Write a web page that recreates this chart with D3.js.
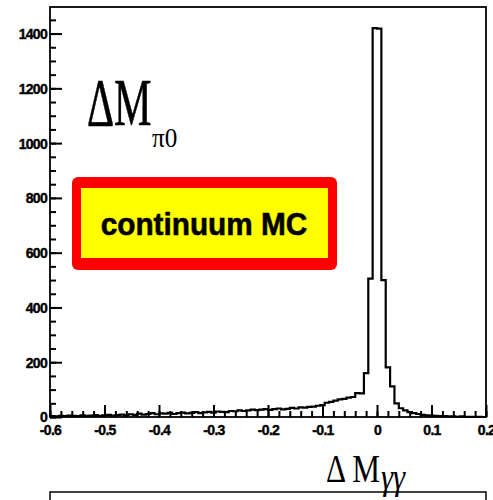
<!DOCTYPE html>
<html>
<head>
<meta charset="utf-8">
<script src="https://cdn.jsdelivr.net/npm/d3@7"></script>
<style>
  body { margin: 0; background: #fff; }
  svg { display: block; }
</style>
</head>
<body>
<svg width="493" height="500"></svg>
<script>
// histogram: 100 bins of 0.008 from -0.6 to 0.2
var xMin = -0.6, xMax = 0.2, binWidth = 0.008;
var counts = [
   3,  2,  4,  3,  5,  4,  3,  6,  4,  5,
   7,  4,  6,  8,  5,  7,  9,  6, 10,  8,
  12,  9, 11, 14, 10, 13, 12, 15, 11, 14,
  16, 13, 15, 18, 14, 17, 19, 16, 20, 19,
  18, 22, 21, 24, 22, 24, 27, 25, 27, 29,
  26, 29, 31, 28, 30, 33, 31, 35, 34, 37,
  38, 41, 43, 52, 55, 60, 64, 66, 71, 73,
  87, 86,160,505,1420,1418,500,181,112, 50,
  32, 24, 18, 14, 11,  8,  6,  5,  4,  3,
   3,  2,  2,  1,  2,  1,  1,  0,  1,  0
];
var xTicks = [-0.6, -0.5, -0.4, -0.3, -0.2, -0.1, 0, 0.1, 0.2];
var yTicks = [0, 200, 400, 600, 800, 1000, 1200, 1400];
var yMax = 1497;

var svg = d3.select("svg"),
    width = +svg.attr("width"),
    height = +svg.attr("height");

var pLeft = 50, pRight = 486, pTop = 7, pBottom = 417;

var x = d3.scaleLinear().domain([xMin, xMax]).range([pLeft, pRight]);
var y = d3.scaleLinear().domain([0, yMax]).range([pBottom, pTop]);

var fmt = function(d){ return String(+d.toFixed(1)); };

// ticks drawn inside the frame, ROOT style
var xAxis = d3.axisTop(x).tickValues(xTicks).tickSize(12).tickFormat(fmt);
var xMinor = d3.axisTop(x).tickValues(d3.range(0, 41).map(function(i){ return xMin + i * 0.02; })).tickSize(6).tickFormat("");
var yAxis = d3.axisRight(y).tickValues(yTicks).tickSize(12).tickFormat(fmt);
var yMinor = d3.axisRight(y).tickValues(d3.range(0, 1451, 50)).tickSize(6).tickFormat("");

svg.append("g").attr("transform", "translate(0," + pBottom + ")").call(xMinor);
var gx = svg.append("g").attr("transform", "translate(0," + pBottom + ")").call(xAxis);
gx.selectAll("text").attr("y", 18).attr("dy", 0);
svg.append("g").attr("transform", "translate(" + pLeft + ",0)").call(yMinor);
var gy = svg.append("g").attr("transform", "translate(" + pLeft + ",0)").call(yAxis);
gy.selectAll("text").attr("x", -3).attr("dy", "0.35em").attr("text-anchor", "end");

svg.selectAll(".domain").remove();
svg.selectAll(".tick line").attr("stroke", "#000").attr("stroke-width", 2);
svg.selectAll(".tick text")
  .attr("fill", "#000")
  .attr("stroke", "#000")
  .attr("stroke-width", 0.4)
  .attr("font-family", "'Liberation Sans', Arial, sans-serif")
  .attr("font-weight", "bold")
  .attr("font-size", 14)
  .attr("letter-spacing", "-0.7");

// histogram outline
var pts = [[xMin, 0]];
counts.forEach(function(c, i) {
  pts.push([xMin + i * binWidth, c]);
  pts.push([xMin + (i + 1) * binWidth, c]);
});
pts.push([xMax, 0]);
var line = d3.line().x(function(d){ return x(d[0]); }).y(function(d){ return y(d[1]); });
svg.append("path").datum(pts)
  .attr("d", line)
  .attr("fill", "none")
  .attr("stroke", "#000")
  .attr("stroke-width", 2.2);

// frame
svg.append("rect")
  .attr("x", pLeft).attr("y", pTop)
  .attr("width", pRight - pLeft).attr("height", pBottom - pTop)
  .attr("fill", "none").attr("stroke", "#000").attr("stroke-width", 1.8);

// big label
var lab = svg.append("g").attr("font-family", "'Liberation Serif', 'Times New Roman', serif");
lab.append("text").attr("transform", "translate(87,125) scale(0.62,1)")
  .attr("font-size", 68).attr("stroke", "#000").attr("stroke-width", 0.6).text("\u0394M");
lab.append("text").attr("transform", "translate(152,147) scale(0.9,1)")
  .attr("font-size", 28).text("\u03c00");

// continuum MC box
svg.append("rect").attr("x", 72).attr("y", 177).attr("width", 265).attr("height", 93)
  .attr("rx", 6).attr("fill", "#ff0000");
svg.append("rect").attr("x", 81).attr("y", 188).attr("width", 247).attr("height", 70)
  .attr("fill", "#ffff00");
svg.append("text").attr("transform", "translate(204,235) scale(0.93,1)")
  .attr("text-anchor", "middle")
  .attr("font-family", "'Liberation Sans', Arial, sans-serif")
  .attr("font-weight", "bold").attr("font-size", 32)
  .attr("stroke", "#000").attr("stroke-width", 0.6)
  .text("continuum MC");

// next panel frame peeking at the bottom
svg.append("rect").attr("x", pLeft).attr("y", 492).attr("width", pRight - pLeft).attr("height", 40)
  .attr("fill", "none").attr("stroke", "#000").attr("stroke-width", 1.5);

// x axis title
var xt = svg.append("g").attr("font-family", "'Liberation Serif', 'Times New Roman', serif");
xt.append("text").attr("transform", "translate(326,482) scale(0.78,1)")
  .attr("font-size", 40).text("\u0394 M");
xt.append("text").attr("transform", "translate(381,489) scale(0.85,1)")
  .attr("font-size", 36).attr("font-style", "italic").text("\u03b3\u03b3");
</script>
</body>
</html>
